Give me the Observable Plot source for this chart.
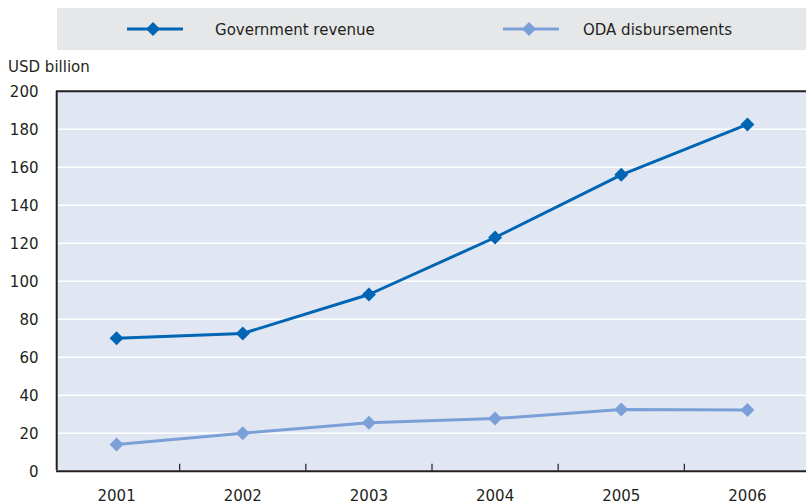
<!DOCTYPE html>
<html><head><meta charset="utf-8">
<script src="https://cdn.jsdelivr.net/npm/d3@7"></script>
<script src="https://cdn.jsdelivr.net/npm/@observablehq/plot@0.6"></script>
<style>
body{margin:0;background:#fff;}
#wrap{position:relative;width:806px;height:504px;font-family:"Liberation Sans Narrow","DejaVu Sans Condensed","Roboto Condensed",sans-serif;font-stretch:condensed;color:#231f20;}
#legend{position:absolute;left:57px;top:8px;width:749px;height:42px;background:#e6e7e9;}
.item{position:absolute;top:0;height:42px;display:flex;align-items:center;font-size:16.7px;}
#unit{position:absolute;left:8px;top:56px;font-size:16.7px;}
#chart{position:absolute;left:0;top:0;}
</style></head>
<body><div id="wrap"><div id="chart"></div><div id="legend"></div><div id="unit">USD billion</div></div>
<script>
const years = [2001, 2002, 2003, 2004, 2005, 2006];
const govRevenue = [70, 72.5, 93, 123, 156, 182.5];
const odaDisb = [14, 20, 25.5, 27.7, 32.5, 32.2];
const seriesNames = ["Government revenue", "ODA disbursements"];
const colors = ["#0066b3", "#7aa0d7"];
const yTicks = [0, 20, 40, 60, 80, 100, 120, 140, 160, 180, 200];

const data = [];
years.forEach((y, i) => {
  data.push({year: y, value: govRevenue[i], series: seriesNames[0]});
  data.push({year: y, value: odaDisb[i], series: seriesNames[1]});
});
const bounds = years.slice(1).map(y => y - 0.5);

const chart = Plot.plot({
  width: 806, height: 504,
  marginTop: 91, marginBottom: 34, marginLeft: 56, marginRight: 0,
  style: {fontFamily: '"Liberation Sans Narrow","DejaVu Sans Condensed",sans-serif', fontSize: "16.7px", color: "#231f20", background: "transparent"},
  x: {domain: [2000.5, 2006.5], range: [53, 810]},
  y: {domain: [0, 200], range: [470.7, 90.7]},
  color: {domain: seriesNames, range: colors},
  marks: [
    Plot.frame({fill: "#e1e6f3", stroke: null}),
    Plot.ruleY(yTicks.filter(d => d > 0 && d < 200), {stroke: "white", strokeWidth: 1.5}),
    Plot.ruleX(bounds, {y1: 0, y2: 3.7, stroke: "#231f20", strokeWidth: 1.2}),
    Plot.line(data, {x: "year", y: "value", z: "series", stroke: "series", strokeWidth: 3}),
    Plot.dot(data, {x: "year", y: "value", fill: "series", symbol: "diamond2", r: 6.3, stroke: null}),
    Plot.ruleY([0], {stroke: "#231f20", strokeWidth: 2}),
    Plot.ruleY([200], {stroke: "#231f20", strokeWidth: 2}),
    Plot.ruleX([2000.5], {dx: 3.2, stroke: "#231f20", strokeWidth: 2}),
    Plot.axisY({ticks: yTicks, tickSize: 0, tickPadding: 18, label: null, fontSize: 16.7}),
    Plot.axisX({ticks: years, tickSize: 0, tickPadding: 19, tickFormat: d => String(d), label: null, fontSize: 16.7})
  ]
});
document.getElementById("chart").appendChild(chart);

const legend = document.getElementById("legend");
const lx = [70, 446];
const gaps = [32, 24];
seriesNames.forEach((name, i) => {
  const div = document.createElement("div");
  div.className = "item";
  div.style.left = lx[i] + "px";
  div.innerHTML = `<svg width="56" height="16" style="margin-right:${gaps[i]}px"><line x1="0" x2="56" y1="8" y2="8" stroke="${colors[i]}" stroke-width="3"/><path d="M26,1L33,8L26,15L19,8Z" fill="${colors[i]}"/></svg><span>${name}</span>`;
  legend.appendChild(div);
});
</script></body></html>
